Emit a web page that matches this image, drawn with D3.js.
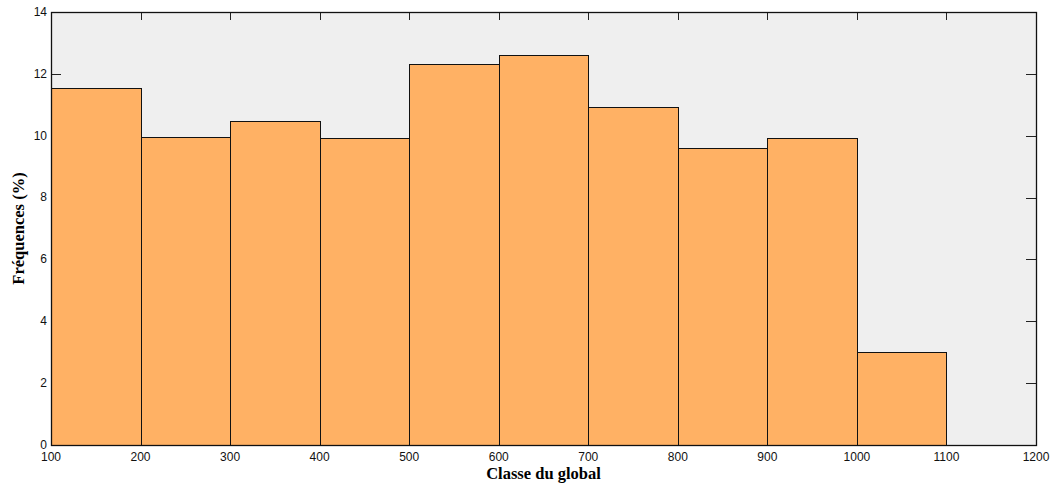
<!DOCTYPE html>
<html>
<head>
<meta charset="utf-8">
<script src="https://cdn.jsdelivr.net/npm/d3@7"></script>
<style>
  body { margin: 0; background: #fff; }
  svg { display: block; }
</style>
</head>
<body>
<div id="chart"></div>
<script>
// bins (lower edges) and frequencies in %
const binStarts = [100, 200, 300, 400, 500, 600, 700, 800, 900, 1000];
const binWidth = 100;
const frequencies = [11.54, 9.97, 10.48, 9.92, 12.32, 12.6, 10.93, 9.6, 9.92, 3.0];
const xTicks = [100, 200, 300, 400, 500, 600, 700, 800, 900, 1000, 1100, 1200];
const yTicks = [0, 2, 4, 6, 8, 10, 12, 14];

const width = 1054, height = 485;
const margin = { top: 12, right: 18, bottom: 40, left: 51 };
const innerWidth = width - margin.left - margin.right;
const innerHeight = height - margin.top - margin.bottom;

const svg = d3.select('#chart')
  .append('svg')
    .attr('width', width)
    .attr('height', height);

const xScale = d3.scaleLinear().domain([100, 1200]).range([0, innerWidth]);
const yScale = d3.scaleLinear().domain([0, 14]).range([innerHeight, 0]);

const g = svg.append('g')
  .attr('transform', `translate(${margin.left}, ${margin.top})`);

// plot background
g.append('rect')
  .attr('width', innerWidth)
  .attr('height', innerHeight)
  .attr('fill', '#efefef');

// inward ticks on all four sides (drawn under the bars)
const tickLen = 8;
const ticks = g.append('g').attr('stroke', '#222').attr('stroke-width', 1);
xTicks.forEach(t => {
  const x = Math.round(xScale(t)) + 0.5;
  ticks.append('line').attr('x1', x).attr('x2', x).attr('y1', innerHeight).attr('y2', innerHeight - tickLen);
  ticks.append('line').attr('x1', x).attr('x2', x).attr('y1', 0).attr('y2', tickLen);
});
yTicks.forEach(t => {
  const y = Math.round(yScale(t)) + 0.5;
  ticks.append('line').attr('x1', 0).attr('x2', tickLen + 2).attr('y1', y).attr('y2', y);
  ticks.append('line').attr('x1', innerWidth).attr('x2', innerWidth - tickLen - 2).attr('y1', y).attr('y2', y);
});

// bars
const bars = binStarts.map((b, i) => ({ start: b, value: frequencies[i] }));
g.selectAll('.bar')
  .data(bars)
  .join('rect')
    .attr('class', 'bar')
    .attr('x', d => Math.round(xScale(d.start)) + 0.5)
    .attr('y', d => Math.round(yScale(d.value)) + 0.5)
    .attr('width', d => Math.round(xScale(d.start + binWidth)) - Math.round(xScale(d.start)))
    .attr('height', d => Math.round(yScale(0)) - Math.round(yScale(d.value)))
    .attr('fill', '#ffb164')
    .attr('stroke', '#111')
    .attr('stroke-width', 1);

// frame
g.append('rect')
  .attr('x', 0.5).attr('y', 0.5)
  .attr('width', innerWidth).attr('height', innerHeight)
  .attr('fill', 'none')
  .attr('stroke', '#111')
  .attr('stroke-width', 1.3);

// tick labels
g.append('g')
  .selectAll('text')
  .data(xTicks)
  .join('text')
    .attr('x', d => xScale(d))
    .attr('y', innerHeight + 16)
    .attr('text-anchor', 'middle')
    .style('font-family', 'Liberation Sans, Arial, sans-serif')
    .style('font-size', '12px')
    .attr('fill', '#111')
    .text(d => d);

g.append('g')
  .selectAll('text')
  .data(yTicks)
  .join('text')
    .attr('x', -4)
    .attr('y', d => yScale(d))
    .attr('dy', '0.32em')
    .attr('text-anchor', 'end')
    .style('font-family', 'Liberation Sans, Arial, sans-serif')
    .style('font-size', '12px')
    .attr('fill', '#111')
    .text(d => d);

// axis titles
svg.append('text')
  .attr('x', margin.left + innerWidth / 2)
  .attr('y', 479)
  .attr('text-anchor', 'middle')
  .style('font-family', 'Liberation Serif, Times New Roman, serif')
  .style('font-size', '16.5px')
  .style('font-weight', 'bold')
  .text('Classe du global');

svg.append('text')
  .attr('transform', `translate(24, ${margin.top + innerHeight / 2}) rotate(-90)`)
  .attr('text-anchor', 'middle')
  .style('font-family', 'Liberation Serif, Times New Roman, serif')
  .style('font-size', '16.5px')
  .style('font-weight', 'bold')
  .text('Fréquences (%)');
</script>
</body>
</html>
